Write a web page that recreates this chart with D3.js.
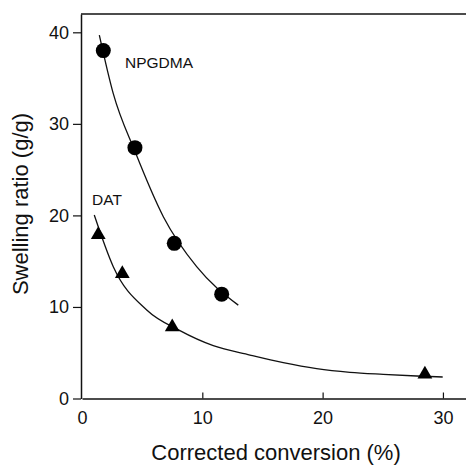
<!DOCTYPE html>
<html>
<head>
<meta charset="utf-8">
<script src="https://cdn.jsdelivr.net/npm/d3@7"></script>
<style>
  body { margin: 0; background: white; }
  svg { display: block; font-family: "Liberation Sans", Arial, Helvetica, sans-serif; }
</style>
</head>
<body>
<div id="chart"></div>
<script>
// measured points
var npgdmaX = [1.77, 4.4, 7.67, 11.61];
var npgdmaY = [38.0, 27.4, 16.95, 11.4];
var datX = [1.35, 3.35, 7.5, 28.5];
var datY = [18.0, 13.74, 7.92, 2.75];

// fitted curves
var npgdmaFitX = [1.44, 2.6, 4.4, 6.76, 9.53, 12.99];
var npgdmaFitY = [39.7, 33.3, 27.0, 19.86, 14.4, 10.2];
var datFitX = [1.02, 2.6, 5.38, 8.14, 10.91, 13.96, 16.73, 19.5, 22.27, 25.04, 27.81, 29.98];
var datFitY = [20.04, 14.4, 9.67, 7.41, 5.77, 4.75, 3.91, 3.26, 2.86, 2.64, 2.46, 2.35];

var xTicks = [0, 10, 20, 30];
var yTicks = [0, 10, 20, 30, 40];

var W = 466, H = 465;

var svg = d3
  .select("#chart")
  .append("svg")
  .attr("width", W)
  .attr("height", H)
  .style("background-color", "white");

var x = d3.scaleLinear().domain([0, 32]).range([82, 467]);
var y = d3.scaleLinear().domain([0, 42]).range([398.5, 14]);

//Axes
var xAxis = svg
  .append("g")
  .attr("transform", "translate(0," + y(0) + ")")
  .call(d3.axisBottom(x).tickValues(xTicks).tickSizeInner(-6).tickSizeOuter(0).tickPadding(13));

var yAxis = svg
  .append("g")
  .attr("transform", "translate(" + 81 + ",0)")
  .call(d3.axisLeft(y).tickValues(yTicks).tickSizeInner(8).tickSizeOuter(0).tickPadding(4));

svg.selectAll(".domain").attr("stroke", "#111").attr("stroke-width", 1.5);
svg.selectAll(".tick line").attr("stroke", "#111").attr("stroke-width", 1.2);
svg.selectAll(".tick text")
  .attr("font-size", 18)
  .attr("font-family", "Liberation Sans, Arial, sans-serif")
  .attr("fill", "#111");
xAxis.selectAll(".tick").filter(function (d) { return d === 0; }).select("line").remove();

//Top frame line
svg
  .append("line")
  .attr("x1", 81)
  .attr("x2", W)
  .attr("y1", y(42))
  .attr("y2", y(42))
  .attr("stroke", "#111")
  .attr("stroke-width", 1.5);

//Axis titles
svg
  .append("text")
  .attr("x", 276)
  .attr("y", 460)
  .attr("text-anchor", "middle")
  .attr("font-size", 22)
  .attr("fill", "#111")
  .text("Corrected conversion (%)");

svg
  .append("text")
  .attr("transform", "translate(28,204) rotate(-90)")
  .attr("text-anchor", "middle")
  .attr("font-size", 22)
  .attr("fill", "#111")
  .text("Swelling ratio (g/g)");

//Fit lines
var line = d3
  .line()
  .x(function (d) { return x(d[0]); })
  .y(function (d) { return y(d[1]); })
  .curve(d3.curveMonotoneX);

svg
  .append("path")
  .attr("d", line(d3.zip(npgdmaFitX, npgdmaFitY)))
  .attr("fill", "none")
  .attr("stroke", "#111")
  .attr("stroke-width", 1.3);

svg
  .append("path")
  .attr("d", line(d3.zip(datFitX, datFitY)))
  .attr("fill", "none")
  .attr("stroke", "#111")
  .attr("stroke-width", 1.3);

//Markers
svg
  .selectAll(".circ")
  .data(d3.zip(npgdmaX, npgdmaY))
  .enter()
  .append("circle")
  .attr("cx", function (d) { return x(d[0]); })
  .attr("cy", function (d) { return y(d[1]); })
  .attr("r", 7.5)
  .attr("fill", "black");

var tri = d3.symbol().type(d3.symbolTriangle).size(95);
svg
  .selectAll(".tri")
  .data(d3.zip(datX, datY))
  .enter()
  .append("path")
  .attr("transform", function (d) { return "translate(" + x(d[0]) + "," + (y(d[1]) + 1) + ")"; })
  .attr("d", tri())
  .attr("fill", "black");

//Series labels
svg
  .append("text")
  .attr("x", 125)
  .attr("y", 67.5)
  .attr("font-size", 15.5)
  .attr("fill", "#111")
  .text("NPGDMA");

svg
  .append("text")
  .attr("x", 92)
  .attr("y", 205)
  .attr("font-size", 15.5)
  .attr("fill", "#111")
  .text("DAT");
</script>
</body>
</html>
